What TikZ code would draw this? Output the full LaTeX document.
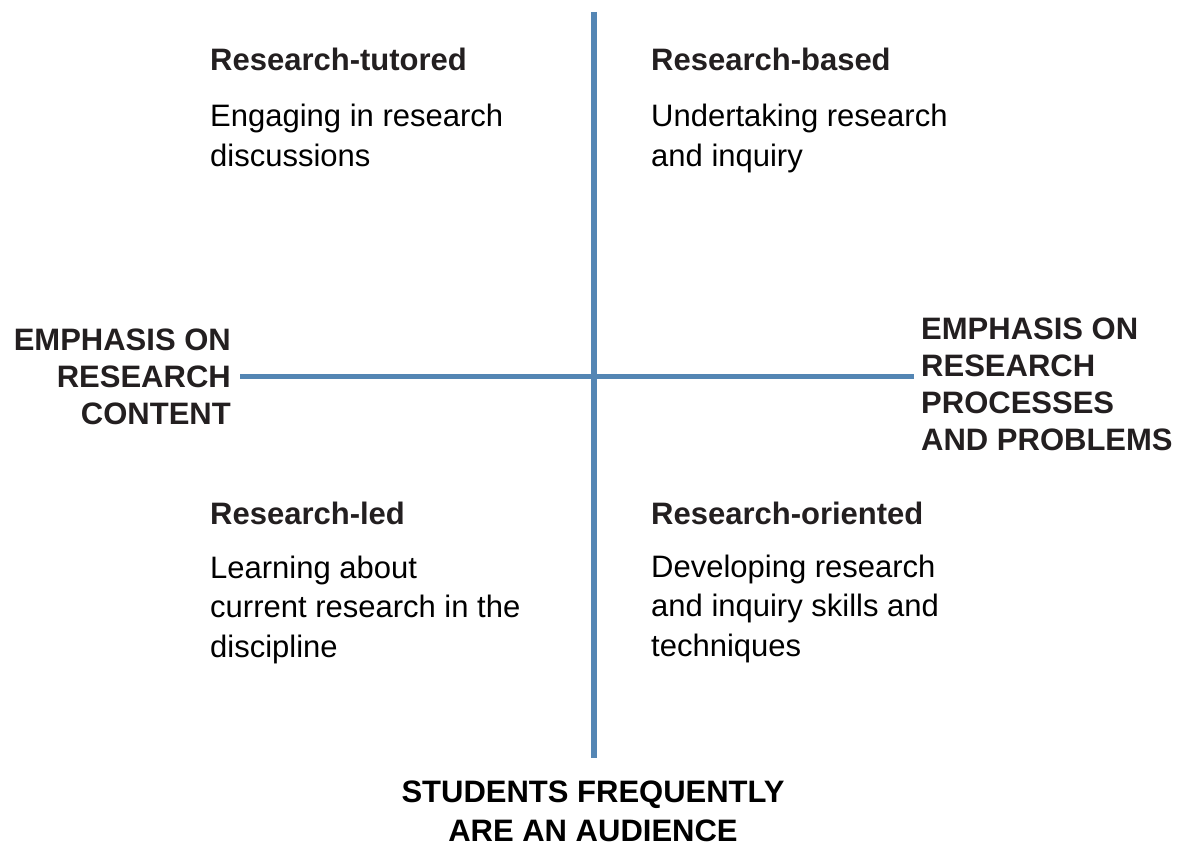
\documentclass[tikz,border=0pt]{standalone}
\usepackage{fontspec}
\setmainfont{Liberation Sans}
\usepackage{tikz}
\definecolor{axisblue}{RGB}{84,134,180}
\definecolor{headgray}{RGB}{35,31,32}

\begin{document}
\begin{tikzpicture}[x=1pt, y=-1pt,
                    axis line/.style={draw=axisblue, line width=5.5pt},
                    title node/.style={inner sep=0pt, anchor=base west, text=headgray,
                                       font=\fontsize{31}{37}\selectfont\bfseries},
                    text node/.style={inner sep=0pt, anchor=base west, align=left,
                                      font=\fontsize{31}{39.5}\selectfont},
                    label node/.style={inner sep=0pt, text=headgray,
                                       font=\fontsize{31}{37}\selectfont\bfseries}]
  \useasboundingbox (0,0) rectangle (1180,848);

  % quadrant titles
  \node[title node] (1) at (210,71) {Research-tutored};
  \node[title node] (2) at (651,71) {Research-based};
  \node[title node] (3) at (210,524) {Research-led};
  \node[title node] (4) at (651,524) {Research-oriented};

  % quadrant texts (placed by the baseline of their last line)
  \node[text node] (1t) at (210,166) {Engaging in research\\discussions};
  \node[text node] (2t) at (651,166) {Undertaking research\\and inquiry};
  \node[text node] (3t) at (210,657) {Learning about\\current research in the\\discipline};
  \node[text node] (4t) at (651,656) {Developing research\\and inquiry skills and\\techniques};

  % axis labels
  \node[label node, anchor=base east, align=right] (content) at (231,424)
    {EMPHASIS ON\\RESEARCH\\CONTENT};
  \node[label node, anchor=base west, align=left] (process) at (921,450)
    {EMPHASIS ON\\RESEARCH\\PROCESSES\\AND PROBLEMS};
  \node[label node, anchor=base, align=center, text=black,
        font=\fontsize{31}{39}\selectfont\bfseries]
    (audience) at (593,841) {STUDENTS FREQUENTLY\\ARE AN AUDIENCE};

  % axes
  \coordinate (top) at (594,12);
  \coordinate (bottom) at (594,758);
  \coordinate (left) at (240,376.5);
  \coordinate (right) at (914,376.5);
  \path[axis line] (top) -- (bottom)
                   (left) -- (right);
\end{tikzpicture}
\end{document}
